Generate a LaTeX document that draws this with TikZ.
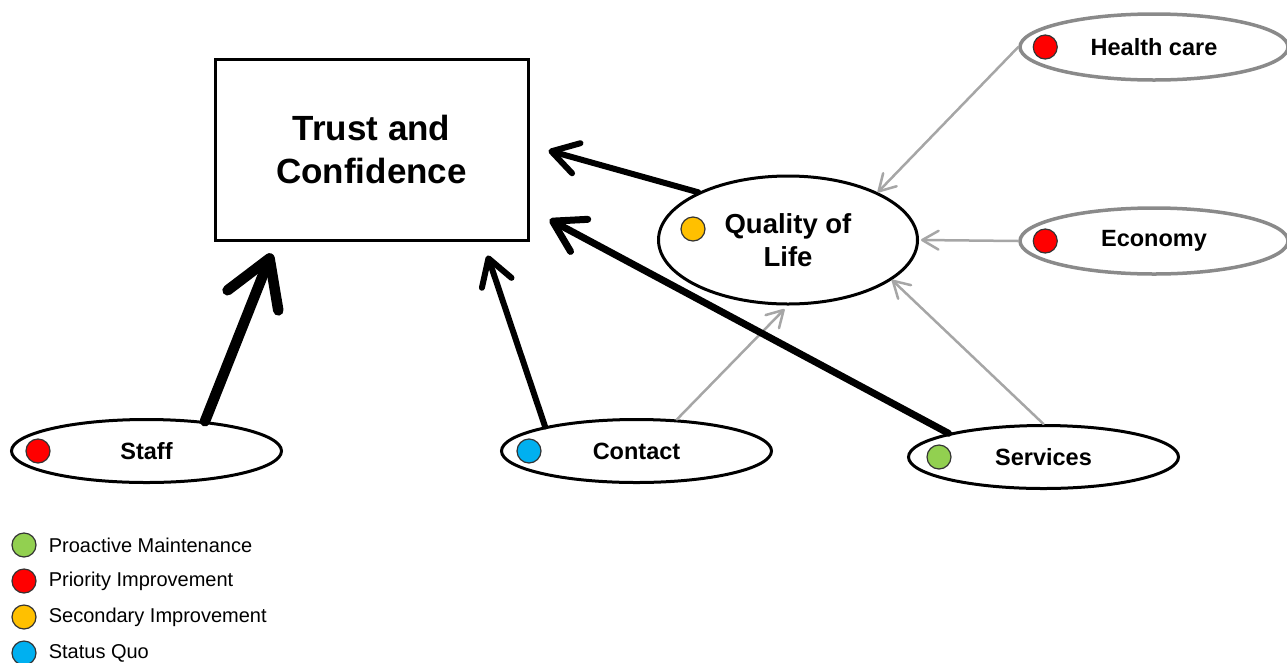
\documentclass[tikz,border=0pt]{standalone}
\usepackage{fontspec}
\setmainfont{Liberation Sans}
\usetikzlibrary{shapes.geometric,arrows.meta,positioning}

\definecolor{prio}{HTML}{FF0000}
\definecolor{second}{HTML}{FFC000}
\definecolor{proact}{HTML}{92D050}
\definecolor{quo}{HTML}{00B0F0}
\definecolor{rim}{HTML}{8A8A8A}
\definecolor{feedgray}{HTML}{A6A6A6}

\tikzset{
  driver/.style={ellipse, draw, line width=3pt, fill=white, inner sep=0pt,
    minimum width=270pt, minimum height=63pt,
    font=\fontsize{23.5}{28}\selectfont\bfseries},
  outer/.style={driver, draw=rim, line width=3.5pt,
    minimum width=268pt, minimum height=66pt},
  dot/.style={circle, draw=black!80, line width=1.2pt, fill=#1,
    minimum size=24pt, inner sep=0pt},
  pull/.style={line width=#1, line cap=round,
    -{Straight Barb[round, length=0pt 4.3, width=0pt 5.2]}},
  feed/.style={line width=2.5pt, draw=feedgray, line cap=round,
    -{Straight Barb[round, length=0pt 6.5, width=0pt 7.5]}}
}

\begin{document}
\begin{tikzpicture}[x=1pt, y=-1pt]
  \useasboundingbox (0,0) rectangle (1287,662);

  % central box
  \node[draw, line width=3pt, minimum width=313pt, minimum height=181pt,
        align=center, font=\fontsize{35}{43}\selectfont\bfseries]
        (trust) at (371.5,149.5) {Trust and\\Confidence};

  % quality of life and the factors feeding it
  \node[ellipse, draw, line width=3pt, fill=white, inner sep=0pt,
        minimum width=259pt, minimum height=128pt, align=center,
        font=\fontsize{27.5}{33}\selectfont\bfseries]
        (quality) at (788,240) {Quality of\\Life};
  \node[dot=second] (qualitydot) at ([xshift=36pt,yshift=11pt]quality.west) {};

  \node[outer] (health) at (1154,47) {Health care};
  \node[dot=prio] (healthdot) at ([xshift=27pt]health.west) {};

  \node[outer] (economy) at (1154,241) {Economy};
  \node[dot=prio] (economydot) at ([xshift=27pt]economy.west) {};

  % direct drivers
  \node[driver] (staff) at (146.5,451) {Staff};
  \node[dot=prio] (staffdot) at ([xshift=28pt]staff.west) {};

  \node[driver] (contact) at (636.5,451) {Contact};
  \node[dot=quo] (contactdot) at ([xshift=29pt]contact.west) {};

  \node[driver] (services) at (1043.5,457) {Services};
  \node[dot=proact] (servicesdot) at ([xshift=32pt]services.west) {};

  % thin links into quality of life
  \draw[feed] (health.west) -- (quality.28);
  \draw[feed] (economy.west) -- ([xshift=2pt]quality.east);
  \draw[feed] (services.north) -- (quality.-21);
  \draw[feed, shorten >=5pt] (contact.38) -- (quality.south);

  % heavy links into trust
  \draw[pull=10.5pt] (staff.27) -- ([xshift=-100pt,yshift=-12pt]trust.south);
  \draw[pull=6pt] (contact.165) -- ([xshift=116pt,yshift=-14pt]trust.south);
  \draw[pull=7pt] (services.166) -- ([xshift=20pt,yshift=22pt]trust.south east);
  \draw[pull=6pt] (quality.152) -- ([xshift=19pt,yshift=-1pt]trust.east);

  % legend
  \foreach \col/\txt [count=\i] in {proact/Proactive Maintenance,
      prio/Priority Improvement, second/Secondary Improvement, quo/Status Quo} {
    \node[dot=\col] (key\i) at (24,509+36*\i) {};
    \node[right=12pt of key\i, inner sep=0pt,
          font=\fontsize{20}{24}\selectfont] (keytext\i) {\txt};
  }
\end{tikzpicture}
\end{document}
